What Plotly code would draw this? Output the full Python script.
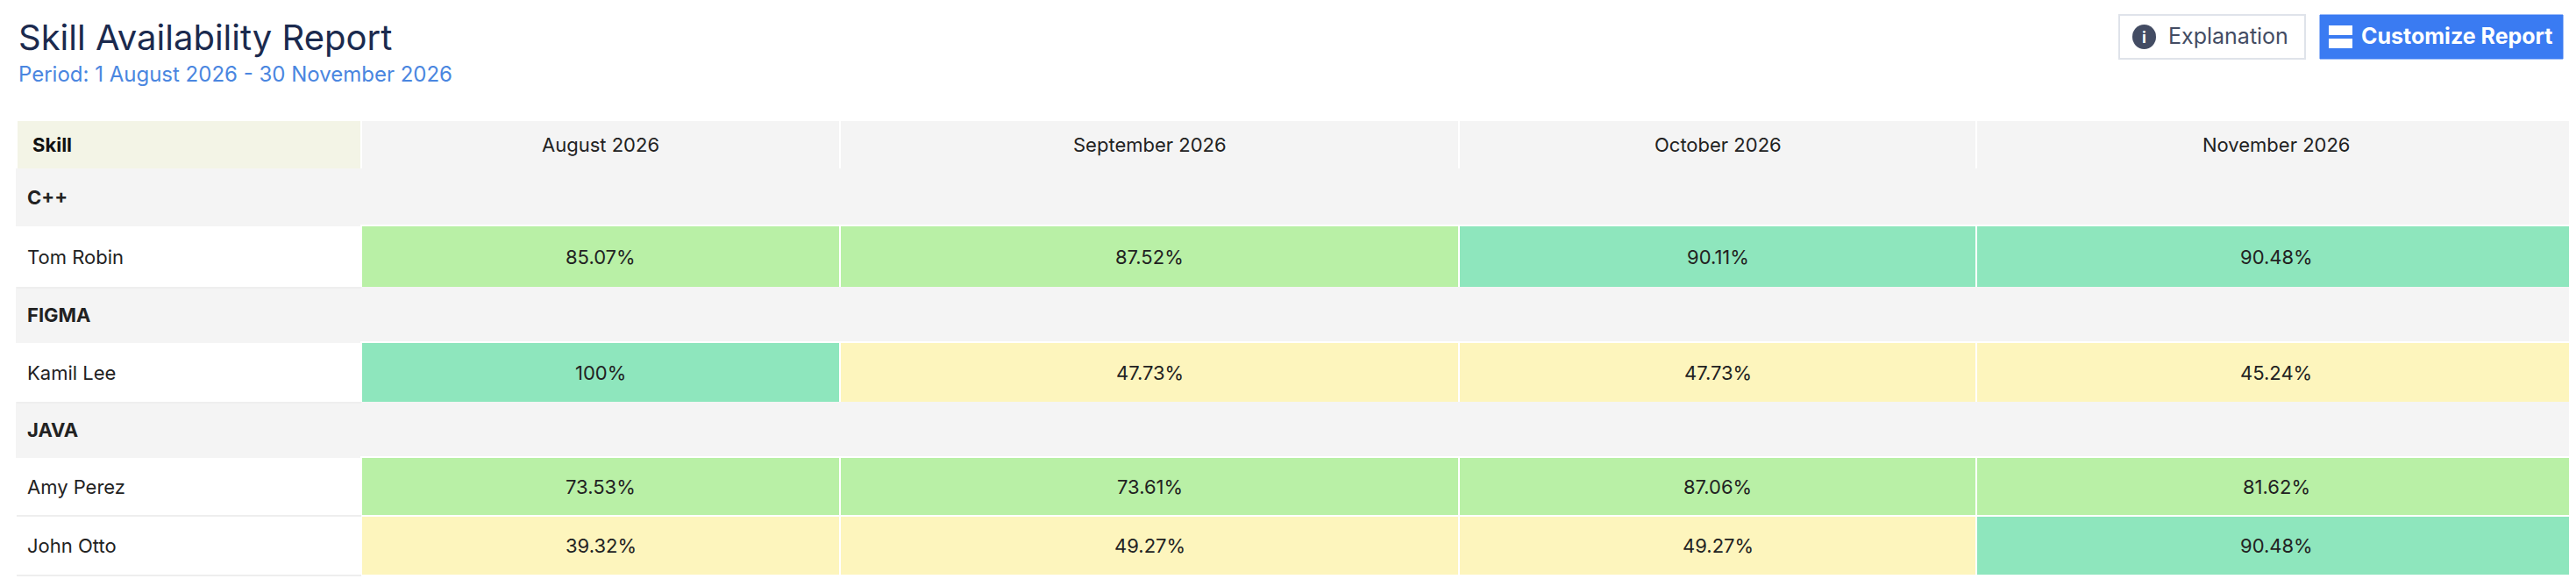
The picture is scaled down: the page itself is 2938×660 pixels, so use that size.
import plotly.graph_objects as go

W, H = 2938, 660
months = ["August 2026", "September 2026", "October 2026", "November 2026"]
groups = ["C++", "FIGMA", "JAVA"]
people = ["Tom Robin", "Kamil Lee", "Amy Perez", "John Otto"]
people_group = ["C++", "FIGMA", "JAVA", "JAVA"]
tom = [85.07, 87.52, 90.11, 90.48]
kamil = [100, 47.73, 47.73, 45.24]
amy = [73.53, 73.61, 87.06, 81.62]
john = [39.32, 49.27, 49.27, 90.48]
values = [tom, kamil, amy, john]

col_edges = [19, 412, 958, 1664, 2254, 2938]
header = (137, 193)
row_edges = [(193, 257), (257, 328), (328, 390), (390, 459), (459, 521), (521, 588), (588, 656)]
FONT = "Inter, Noto Sans, sans-serif"

def fmt(v):
    return f"{v:g}%" if v == int(v) else f"{v:.2f}%"

def color(v):
    if v >= 90:
        return "#8ee6bd"
    if v >= 60:
        return "#b9f0a6"
    return "#fdf5bd"

shapes, ann = [], []
def rect(x0, x1, y0, y1, fill, line="white", w=2):
    shapes.append(dict(type="rect", x0=x0, x1=x1, y0=y0, y1=y1, fillcolor=fill,
                       line=dict(color=line, width=w), layer="below"))
def text(x, y, s, size=22, col="#222", anchor="center", bold=False):
    ann.append(dict(x=x, y=y, text=f"<b>{s}</b>" if bold else s, showarrow=False,
                    xanchor=anchor, yanchor="middle", font=dict(family=FONT, size=size, color=col)))

rect(col_edges[0], col_edges[1], *header, "#f3f4e6")
text(col_edges[0] + 16, sum(header) / 2, "Skill", bold=True, anchor="left", col="#111")
for i, m in enumerate(months):
    rect(col_edges[i + 1], col_edges[i + 2], *header, "#f4f4f4")
    text((col_edges[i + 1] + col_edges[i + 2]) / 2, sum(header) / 2, m)

r = 0
for g in groups:
    y0, y1 = row_edges[r]
    rect(col_edges[0], col_edges[-1], y0, y1, "#f4f4f4", line="#f4f4f4")
    text(col_edges[0] + 10, (y0 + y1) / 2, g, bold=True, anchor="left")
    r += 1
    for p, pg, vals in zip(people, people_group, values):
        if pg != g:
            continue
        y0, y1 = row_edges[r]
        text(col_edges[0] + 10, (y0 + y1) / 2, p, anchor="left")
        for i, v in enumerate(vals):
            rect(col_edges[i + 1], col_edges[i + 2], y0, y1, color(v))
            text((col_edges[i + 1] + col_edges[i + 2]) / 2, (y0 + y1) / 2, fmt(v))
        shapes.append(dict(type="line", x0=col_edges[0], x1=col_edges[1], y0=y1, y1=y1,
                           line=dict(color="#eeeeee", width=2)))
        r += 1

text(19, 42, "Skill Availability Report", size=40, col="#1b2a4e", anchor="left")
text(19, 84, "Period: 1 August 2026 - 30 November 2026", size=24, col="#4a86e0", anchor="left")

shapes.append(dict(type="rect", x0=2417, x1=2629, y0=17, y1=67, fillcolor="white",
                   line=dict(color="#dfe3ea", width=2)))
shapes.append(dict(type="circle", x0=2432, x1=2459, y0=28, y1=56, fillcolor="#434c63", line=dict(width=0)))
text(2445.5, 42, "i", size=18, col="white", bold=True)
text(2471, 41, "Explanation", size=25, col="#434c63", anchor="left")
shapes.append(dict(type="rect", x0=2646, x1=2923, y0=17, y1=67, fillcolor="#3a7bf2",
                   line=dict(color="#3a7bf2", width=1)))
shapes.append(dict(type="rect", x0=2656, x1=2683, y0=29, y1=40, fillcolor="white", line=dict(width=0)))
shapes.append(dict(type="rect", x0=2656, x1=2683, y0=44, y1=55, fillcolor="white", line=dict(width=0)))
text(2691, 41, "<b>Customize Report</b>", size=25, col="white", anchor="left")

fig = go.Figure()
fig.update_layout(width=W, height=H, margin=dict(l=0, r=0, t=0, b=0),
                  paper_bgcolor="white", plot_bgcolor="white",
                  xaxis=dict(range=[8, W + 8], visible=False, fixedrange=True),
                  yaxis=dict(range=[H + 8, 8], visible=False, fixedrange=True),
                  shapes=shapes, annotations=ann, showlegend=False)
fig.write_html("out.html", config={"displayModeBar": False})
